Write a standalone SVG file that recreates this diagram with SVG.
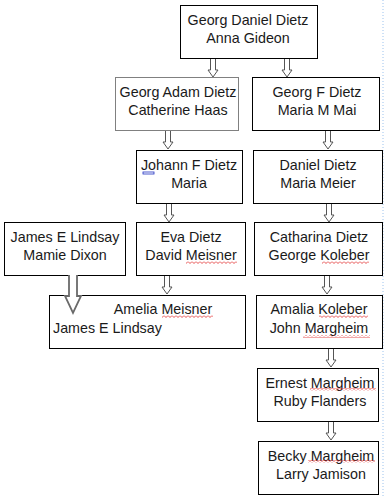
<svg xmlns="http://www.w3.org/2000/svg" width="387" height="498" viewBox="0 0 387 498">
<style>
.box{fill:#fff;stroke:#000;stroke-width:1}
.lite{stroke:#808080}
.t{font-family:"Liberation Sans",Arial,sans-serif;font-size:14.3px;fill:#1a1a1a;text-anchor:middle}
.arr{fill:#fff;stroke:#555;stroke-width:1}
.sq{fill:url(#wave)}
</style>
<defs>
<path id="a" d="M-2.5 0 V12 H-5 L0 19 L5 12 H2.5 V0 Z"/>
<pattern id="wave" width="4" height="3" patternUnits="userSpaceOnUse"><path d="M0 0.5 L2 2.5 L4 0.5" stroke="#e02020" fill="none" stroke-width="0.8"/></pattern>
</defs>
<rect width="387" height="498" fill="#fff"/>
<line x1="383" y1="0" x2="383" y2="498" stroke="#9cc3ee" stroke-width="1" stroke-dasharray="1,2"/>
<g id="connectors">
<use href="#a" class="arr" x="213" y="58"/>
<use href="#a" class="arr" x="287" y="58"/>
<use href="#a" class="arr" x="168" y="130"/>
<use href="#a" class="arr" x="328" y="130"/>
<use href="#a" class="arr" x="169" y="203"/>
<use href="#a" class="arr" x="329" y="203"/>
<use href="#a" class="arr" x="167" y="275"/>
<use href="#a" class="arr" x="327" y="275"/>
<use href="#a" class="arr" x="331" y="348"/>
<use href="#a" class="arr" x="331" y="421"/>
</g>
<g id="n1"><rect class="box" x="180.5" y="5.5" width="137" height="53"/><text class="t" x="248" y="25">Georg Daniel Dietz</text><text class="t" x="248" y="43">Anna Gideon</text></g>
<g id="n2"><rect class="box lite" x="115.5" y="77.5" width="123" height="53"/><text class="t" x="178" y="97">Georg Adam Dietz</text><text class="t" x="178" y="115">Catherine Haas</text></g>
<g id="n3"><rect class="box" x="252.5" y="77.5" width="127" height="53"/><text class="t" x="317" y="97">Georg F Dietz</text><text class="t" x="317" y="115">Maria M Mai</text></g>
<g id="n4"><rect class="box" x="136.5" y="150.5" width="106" height="53"/><text class="t" x="189" y="170">Johann F Dietz</text><text class="t" x="189" y="188">Maria</text><rect x="143" y="172" width="11" height="2" fill="none" stroke="#2030c0" stroke-width="0.8"/></g>
<g id="n5"><rect class="box" x="253.5" y="150.5" width="129" height="53"/><text class="t" x="318" y="170">Daniel Dietz</text><text class="t" x="318" y="188">Maria Meier</text></g>
<g id="n6"><rect class="box" x="4.5" y="222.5" width="121" height="53"/><text class="t" x="65" y="242">James E Lindsay</text><text class="t" x="65" y="260">Mamie Dixon</text></g>
<g id="n7"><rect class="box" x="136.5" y="222.5" width="109" height="53"/><text class="t" x="191" y="242">Eva Dietz</text><text class="t" x="191" y="260">David Meisner</text><rect class="sq" x="186" y="261" width="51" height="3"/></g>
<g id="n8"><rect class="box" x="254.5" y="222.5" width="128" height="53"/><text class="t" x="319" y="242">Catharina Dietz</text><text class="t" x="319" y="260">George Koleber</text><rect class="sq" x="322" y="261" width="47" height="3"/></g>
<g id="n9"><rect class="box" x="49.5" y="295.5" width="196" height="53"/><text class="t" x="163" y="314">Amelia Meisner</text><text class="t" x="53" y="333" style="text-anchor:start">James E Lindsay</text><rect class="sq" x="162" y="315" width="51" height="3"/></g>
<g id="n10"><rect class="box" x="256.5" y="295.5" width="126" height="53"/><text class="t" x="319" y="314">Amalia Koleber</text><text class="t" x="319" y="333">John Margheim</text><rect class="sq" x="319" y="315" width="49" height="3"/><rect class="sq" x="303" y="335" width="67" height="3"/></g>
<g id="n11"><rect class="box" x="257.5" y="368.5" width="121" height="53"/><text class="t" x="320" y="388">Ernest Margheim</text><text class="t" x="320" y="406">Ruby Flanders</text><rect class="sq" x="310" y="388" width="66" height="3"/></g>
<g id="n12"><rect class="box" x="258.5" y="441.5" width="120" height="53"/><text class="t" x="321" y="461">Becky Margheim</text><text class="t" x="321" y="479">Larry Jamison</text><rect class="sq" x="308" y="460" width="67" height="3"/></g>
<g id="bigarrow"><path d="M69 275 V296 H65 L73 313 L81 296 H77 V275" fill="#fff" stroke="#6a6a6a" stroke-width="1.8"/></g>
</svg>
